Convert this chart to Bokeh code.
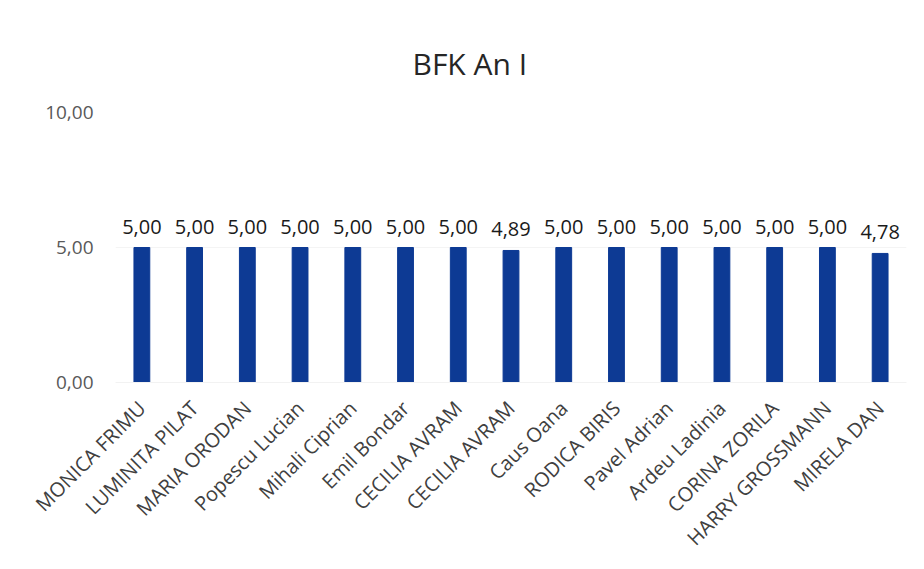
import math
from bokeh.plotting import figure
from bokeh.models import ColumnDataSource, FixedTicker, Range1d
from bokeh.core.properties import value
from bokeh.embed import file_html
from bokeh.resources import INLINE

names = ["MONICA FRIMU", "LUMINITA PILAT", "MARIA ORODAN", "Popescu Lucian",
         "Mihali Ciprian", "Emil Bondar", "CECILIA AVRAM", "CECILIA AVRAM",
         "Caus Oana", "RODICA BIRIS", "Pavel Adrian", "Ardeu Ladinia",
         "CORINA ZORILA", "HARRY GROSSMANN", "MIRELA DAN"]
scores = [5.00, 5.00, 5.00, 5.00, 5.00, 5.00, 5.00, 4.89,
          5.00, 5.00, 5.00, 5.00, 5.00, 5.00, 4.78]
y_ticks = [0, 5, 10]
title_text = "BFK An I"

FONT = "Open Sans"

idx = list(range(len(names)))
labels = [f"{v:.2f}".replace(".", ",") for v in scores]
src = ColumnDataSource(dict(x=idx, top=scores, label=labels))

p = figure(frame_width=791, frame_height=270, output_backend="svg", toolbar_location=None,
           x_range=Range1d(-0.5, len(names) - 0.5), y_range=Range1d(0, 10),
           min_border_left=115, min_border_right=10, min_border_top=112,
           min_border_bottom=0, title=title_text)

p.vbar(x="x", top="top", width=0.3, source=src, color="#0D3A94")
p.text(x="x", y="top", text="label", source=src, text_align="center",
       text_baseline="bottom", y_offset=-14, text_font=value(FONT),
       text_font_size="20px", text_color="#1a1a1a")

p.title.align = "left"
p.title.offset = 297
p.title.text_font = FONT
p.title.text_font_size = "30px"
p.title.text_font_style = "normal"
p.title.text_color = "#262626"
p.title.standoff = 57

p.outline_line_color = None
p.background_fill_color = "white"
p.border_fill_color = "white"

p.xgrid.grid_line_color = None
p.ygrid.grid_line_color = "#f4f4f4"

p.yaxis.ticker = FixedTicker(ticks=y_ticks)
p.yaxis.major_label_overrides = {t: f"{t:.2f}".replace(".", ",") for t in y_ticks}
p.yaxis.axis_line_color = None
p.yaxis.major_tick_line_color = None
p.yaxis.minor_tick_line_color = None
p.yaxis.major_label_text_font = FONT
p.yaxis.major_label_text_font_size = "19px"
p.yaxis.major_label_text_color = "#595959"
p.yaxis.major_label_standoff = 16

p.xaxis.ticker = FixedTicker(ticks=idx)
p.xaxis.major_label_overrides = {i: n for i, n in zip(idx, names)}
p.xaxis.major_label_orientation = math.pi / 4
p.xaxis.axis_line_color = "#f2f2f2"
p.xaxis.major_tick_line_color = None
p.xaxis.minor_tick_line_color = None
p.xaxis.major_label_text_font = FONT
p.xaxis.major_label_text_font_size = "20px"
p.xaxis.major_label_text_color = "#404040"
p.xaxis.major_label_standoff = 16

open("out.html", "w").write(file_html(p, INLINE))
